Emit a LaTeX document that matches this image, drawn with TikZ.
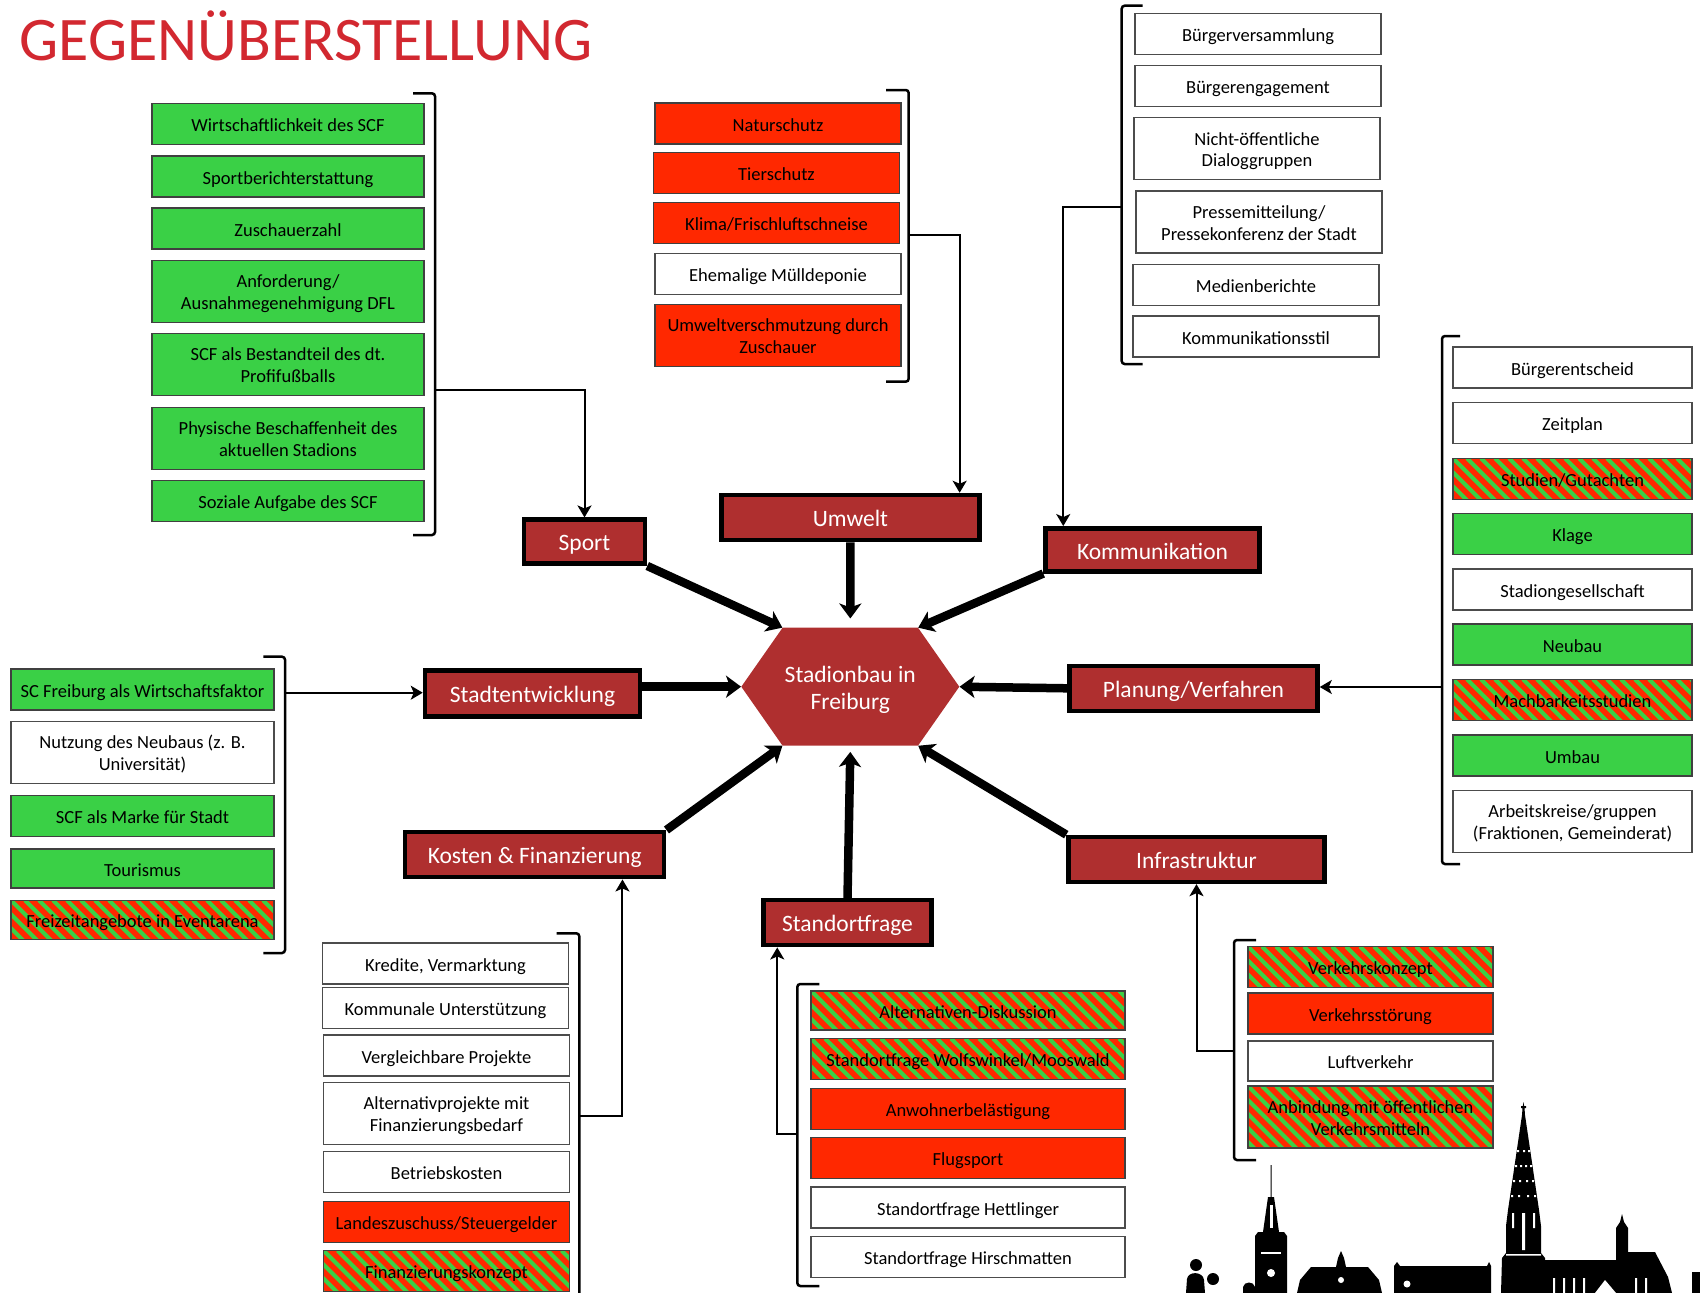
\documentclass[tikz,border=0pt]{standalone}
\usepackage{fontspec}
\setmainfont{Carlito}
\usetikzlibrary{arrows.meta,shapes.symbols}

\definecolor{titlered}{RGB}{210,40,48}
\definecolor{topicred}{RGB}{175,47,47}
\definecolor{progreen}{RGB}{58,208,70}
\definecolor{conred}{RGB}{255,40,0}

\newcommand{\itemfont}{\fontsize{18.5}{21.7}\selectfont}
\newcommand{\topicfont}{\fontsize{23.5}{27}\selectfont}

\begin{document}
\begin{tikzpicture}[x=1pt,y=-1pt,
    item/.style={draw=black!75, line width=1.4pt, text=black, font=\itemfont,
        align=center, inner sep=0pt, minimum height=41pt,
        text height=15.4pt, text depth=0pt},
    % two lines: the box baseline is the one of the last line
    tall/.style={minimum height=62pt, text height=37.1pt, text depth=1.1pt},
    pro/.style={item, fill=progreen},
    contra/.style={item, fill=conred},
    neutral/.style={item, fill=white, draw=black!70},
    % red/green: red box with green diagonal bands
    mixed/.style={item, fill=conred,
        path picture={
            \foreach \k in {-70,-56,...,330}
                \draw[progreen, line width=4pt]
                    ([xshift=\k]path picture bounding box.north west) -- ++(70,70);
        }},
    topic/.style={draw=black, line width=4.5pt, fill=topicred, text=white,
        font=\topicfont, inner sep=0pt, text height=18.4pt, text depth=0pt},
    hub/.style={shape=signal, signal to=west and east, signal pointer angle=110,
        fill=topicred, text=white, font=\topicfont, align=center,
        minimum width=218pt, minimum height=118pt, inner sep=0pt,
        text height=44.6pt, text depth=0pt},
    bracket/.style={line width=2.5pt, rounded corners=3pt},
    link/.style={line width=2pt, -{Stealth[length=12pt,width=14pt,inset=3pt]}},
    bigarrow/.style={line width=8.5pt, -{Stealth[length=15pt,width=22pt,inset=4pt]}},
    ]

    \useasboundingbox (0,0) rectangle (1700,1293);

    \node[anchor=base west, text=titlered, font=\fontsize{62}{62}\selectfont]
        (title) at (16,60) {GEGENÜBERSTELLUNG};

    % Centre
    \node[hub] (hub) at (850.3,686.7) {Stadionbau in\\Freiburg};

    % Topics
    \node[topic, minimum width=121pt, minimum height=44pt] (sport) at (584.5,541.7) {Sport};
    \node[topic, minimum width=258pt, minimum height=45pt] (umwelt) at (850.4,517.5) {Umwelt};
    \node[topic, minimum width=214pt, minimum height=43pt] (komm) at (1152.5,549.8) {Kommunikation};
    \node[topic, minimum width=215pt, minimum height=46pt] (stadt) at (532.5,693.7) {Stadtentwicklung};
    \node[topic, minimum width=248pt, minimum height=45pt] (plan) at (1193.5,688.3) {Planung/Verfahren};
    \node[topic, minimum width=259pt, minimum height=45pt] (kosten) at (534.7,854.7) {Kosten \& Finanzierung};
    \node[topic, minimum width=168pt, minimum height=45pt] (stand) at (847.5,922.7) {Standortfrage};
    \node[topic, minimum width=256pt, minimum height=45pt] (infra) at (1196.5,859.4) {Infrastruktur};

    \draw[bigarrow] (sport.south east) -- (hub.139);
    \draw[bigarrow] (umwelt.south) -- ([yshift=9pt]hub.north);
    \draw[bigarrow] (komm.south west) -- (hub.41);
    \draw[bigarrow] (stadt.east |- hub.west) -- (hub.west);
    \draw[bigarrow] (plan.west) -- (hub.east);
    \draw[bigarrow] (kosten.north east) -- (hub.221);
    \draw[bigarrow] (stand.north) -- ([yshift=-6pt]hub.south);
    \draw[bigarrow] (infra.north west) -- (hub.-41);

    % Sport
    \begin{scope}[xshift=288, every node/.append style={minimum width=272pt}]
        \node[pro] (sp1) at (0,124) {Wirtschaftlichkeit des SCF};
        \node[pro] (sp2) at (0,176.3) {Sportberichterstattung};
        \node[pro] (sp3) at (0,228.5) {Zuschauerzahl};
        \node[pro, tall] (sp4) at (0,291.5) {Anforderung/\\Ausnahmegenehmigung DFL};
        \node[pro, tall] (sp5) at (0,364.5) {SCF als Bestandteil des dt.\\Profifußballs};
        \node[pro, tall] (sp6) at (0,438.2) {Physische Beschaffenheit des\\aktuellen Stadions};
        \node[pro] (sp7) at (0,501) {Soziale Aufgabe des SCF};
    \end{scope}
    \draw[bracket] (413,93.3) -- (435,93.3) -- (435,535) -- (413,535);
    \coordinate (spbr) at (435,390);
    \draw[link] (spbr) -| (sport);

    % Umwelt
    \begin{scope}[xshift=778, every node/.append style={minimum width=246pt}]
        \node[contra] (uw1) at (0,123.3) {Naturschutz};
        \node[contra] (uw2) at (-1.5,172.7) {Tierschutz};
        \node[contra] (uw3) at (-1.5,222.8) {Klima/Frischluftschneise};
        \node[neutral] (uw4) at (0,273.7) {Ehemalige Mülldeponie};
        \node[contra, tall] (uw5) at (0,335.2) {Umweltverschmutzung durch\\Zuschauer};
    \end{scope}
    \draw[bracket] (886,90) -- (908.7,90) -- (908.7,381.7) -- (886,381.7);
    \coordinate (uwbr) at (908.7,235.3);
    \draw[link] (uwbr) -| ([xshift=-22pt]umwelt.north east);

    % Kommunikation
    \begin{scope}[xshift=1258, every node/.append style={minimum width=246pt}]
        \node[neutral] (ko1) at (0,33.7) {Bürgerversammlung};
        \node[neutral] (ko2) at (0,85.8) {Bürgerengagement};
        \node[neutral, tall] (ko3) at (-1,148.7) {Nicht-öffentliche\\Dialoggruppen};
        \node[neutral, tall] (ko4) at (1,222) {Pressemitteilung/\\Pressekonferenz der Stadt};
        \node[neutral] (ko5) at (-2,284.8) {Medienberichte};
        \node[neutral] (ko6) at (-2,336.3) {Kommunikationsstil};
    \end{scope}
    \draw[bracket] (1142.7,5.7) -- (1121.7,5.7) -- (1121.7,364) -- (1142.7,364);
    \coordinate (kobr) at (1121.7,206.7);
    \draw[link] (kobr) -| ([xshift=20pt]komm.north west);

    % Planung/Verfahren
    \begin{scope}[xshift=1572.5, every node/.append style={minimum width=239pt}]
        \node[neutral] (pl1) at (0,367.3) {Bürgerentscheid};
        \node[neutral] (pl2) at (0,422.7) {Zeitplan};
        \node[mixed] (pl3) at (0,478.8) {Studien/Gutachten};
        \node[pro] (pl4) at (0,534.2) {Klage};
        \node[neutral] (pl5) at (0,589.3) {Stadiongesellschaft};
        \node[pro] (pl6) at (0,644.5) {Neubau};
        \node[mixed] (pl7) at (0,699.7) {Machbarkeitsstudien};
        \node[pro] (pl8) at (0,755.5) {Umbau};
        \node[neutral, tall] (pl9) at (0,821.3) {Arbeitskreise/gruppen\\(Fraktionen, Gemeinderat)};
    \end{scope}
    \draw[bracket] (1460,336) -- (1442,336) -- (1442,864) -- (1460,864);
    \coordinate (plbr) at (1442,687);
    \draw[link] (plbr) -- (plbr -| plan.east);

    % Stadtentwicklung
    \begin{scope}[xshift=142.5, every node/.append style={minimum width=263pt}]
        \node[pro] (st1) at (0,689.3) {SC Freiburg als Wirtschaftsfaktor};
        \node[neutral, tall] (st2) at (0,752.2) {Nutzung des Neubaus (z. B.\\Universität)};
        \node[pro] (st3) at (0,815.8) {SCF als Marke für Stadt};
        \node[pro, minimum height=39pt] (st4) at (0,868.3) {Tourismus};
        \node[mixed, minimum height=39pt] (st5) at (0,919.7) {Freizeitangebote in Eventarena};
    \end{scope}
    \draw[bracket] (263.3,656.7) -- (285,656.7) -- (285,953) -- (263.3,953);
    \coordinate (stbr) at (285,692.7);
    \draw[link] (stbr) -- (stbr -| stadt.west);

    % Kosten & Finanzierung
    \begin{scope}[xshift=446, every node/.append style={minimum width=246pt}]
        \node[neutral] (kf1) at (-0.5,963.3) {Kredite, Vermarktung};
        \node[neutral] (kf2) at (-0.5,1008.2) {Kommunale Unterstützung};
        \node[neutral] (kf3) at (0.5,1055.3) {Vergleichbare Projekte};
        \node[neutral, tall] (kf4) at (0.5,1113.3) {Alternativprojekte mit\\Finanzierungsbedarf};
        \node[neutral] (kf5) at (0.5,1171.7) {Betriebskosten};
        \node[contra] (kf6) at (0.5,1221.8) {Landeszuschuss/Steuergelder};
        \node[mixed] (kf7) at (0.5,1271) {Finanzierungskonzept};
    \end{scope}
    \draw[bracket] (556.7,933.3) -- (579.3,933.3) -- (579.3,1310);
    \coordinate (kfbr) at (579.3,1116);
    \draw[link] (kfbr) -| ([xshift=-44pt]kosten.south east);

    % Standortfrage
    \begin{scope}[xshift=968, every node/.append style={minimum width=314pt}]
        \node[mixed, minimum height=39pt] (sf1) at (0,1010.3) {Alternativen-Diskussion};
        \node[mixed] (sf2) at (0,1059) {Standortfrage Wolfswinkel/Mooswald};
        \node[contra] (sf3) at (0,1108.7) {Anwohnerbelästigung};
        \node[contra] (sf4) at (0,1158) {Flugsport};
        \node[neutral] (sf5) at (0,1207.3) {Standortfrage Hettlinger};
        \node[neutral] (sf6) at (0,1256.7) {Standortfrage Hirschmatten};
    \end{scope}
    \draw[bracket] (819.3,984) -- (797.3,984) -- (797.3,1286) -- (819.3,1286);
    \coordinate (sfbr) at (797.3,1134.3);
    \draw[link] (sfbr) -| ([xshift=16pt]stand.south west);

    % Infrastruktur
    \begin{scope}[xshift=1370.5, every node/.append style={minimum width=245pt}]
        \node[mixed] (in1) at (0,967) {Verkehrskonzept};
        \node[contra] (in2) at (0,1013.5) {Verkehrsstörung};
        \node[neutral, minimum height=40pt] (in3) at (0,1061) {Luftverkehr};
        \node[mixed, tall] (in4) at (0,1117) {Anbindung mit öffentlichen\\Verkehrsmitteln};
    \end{scope}
    \draw[bracket] (1256,940) -- (1234,940) -- (1234,1160) -- (1256,1160);
    \coordinate (inbr) at (1234,1050.6);
    \draw[link] (inbr) -| (infra);

    % Skyline
    \begin{scope}[black]
        % figure with ball
        \fill (1196,1265) circle (6);
        \fill (1186,1293) -- (1187,1279) .. controls (1188,1271) and (1203,1271) .. (1204,1280) -- (1205,1293) -- cycle;
        \fill (1213,1279) circle (6);
        % small dome
        \fill (1243,1293) -- (1243,1287) .. controls (1244,1281) and (1254,1281) .. (1255,1287) -- (1255,1293) -- cycle;
        % town hall tower
        \fill (1255,1293) -- (1255,1236) -- (1258,1232) -- (1263,1232) -- (1268,1197)
            -- (1270.5,1197) -- (1270.5,1165) -- (1271.5,1165) -- (1271.5,1197) -- (1274,1197)
            -- (1279,1232) -- (1284,1232) -- (1287,1236) -- (1287,1293) -- cycle;
        \fill[white] (1271,1273) circle (4);
        \fill[white] (1261,1252) rectangle (1281,1254);
        \fill[white] (1269.5,1205) rectangle (1272.5,1228);
        % gabled house
        \fill (1297,1293) -- (1300,1280) -- (1311,1267) -- (1336,1267) -- (1338,1258)
            -- (1341,1251) -- (1344,1258) -- (1346,1267) -- (1368,1267) -- (1379,1280)
            -- (1382,1293) -- cycle;
        \fill[white] (1341,1280) circle (3);
        % long house
        \fill (1394,1293) -- (1394,1266) -- (1397,1262) -- (1400,1266) -- (1487,1266)
            -- (1489,1262) -- (1491,1266) -- (1491,1293) -- cycle;
        \fill[white] (1407,1284) circle (3.5);
        % minster
        \fill (1501,1293) -- (1502,1258) -- (1506,1253) -- (1506,1226) -- (1508,1210)
            -- (1522,1115) -- (1522.5,1108) -- (1521,1108) -- (1521,1106) -- (1522.8,1106)
            -- (1523.5,1102) -- (1524.2,1106) -- (1526,1106) -- (1526,1108) -- (1524.5,1108)
            -- (1525,1115) -- (1539,1210) -- (1541,1226) -- (1541,1253) -- (1545,1258)
            -- (1545,1260) -- (1616,1260) -- (1616,1228) -- (1620,1222) -- (1622,1214)
            -- (1624,1222) -- (1628,1228) -- (1628,1252) -- (1655,1252) -- (1668,1277)
            -- (1672,1293) -- cycle;
        \fill[white] (1517,1150) rectangle (1519,1152) (1523,1150) rectangle (1525,1152)
            (1528,1150) rectangle (1530,1152) (1515,1165) rectangle (1517,1167)
            (1520,1165) rectangle (1522,1167) (1525,1165) rectangle (1527,1167)
            (1530,1165) rectangle (1532,1167) (1513,1180) rectangle (1515,1182)
            (1519,1180) rectangle (1521,1182) (1526,1180) rectangle (1528,1182)
            (1532,1180) rectangle (1534,1182) (1511,1195) rectangle (1513,1197)
            (1518,1195) rectangle (1520,1197) (1527,1195) rectangle (1529,1197)
            (1534,1195) rectangle (1536,1197);
        \fill[white] (1512,1213) rectangle (1514,1228) (1522,1213) rectangle (1525,1250)
            (1533,1213) rectangle (1535,1228) (1506,1254) rectangle (1541,1255.5);
        \fill[white] (1595,1293) -- (1605,1280) -- (1616,1293) -- cycle;
        \fill[white] (1553,1278) rectangle (1555,1293) (1563,1278) rectangle (1565,1293)
            (1573,1278) rectangle (1575,1293) (1583,1278) rectangle (1585,1293)
            (1635,1278) rectangle (1637,1293) (1645,1278) rectangle (1647,1293);
        % right block
        \fill (1692,1293) -- (1692,1272) -- (1700,1272) -- (1700,1293) -- cycle;
    \end{scope}
\end{tikzpicture}
\end{document}
